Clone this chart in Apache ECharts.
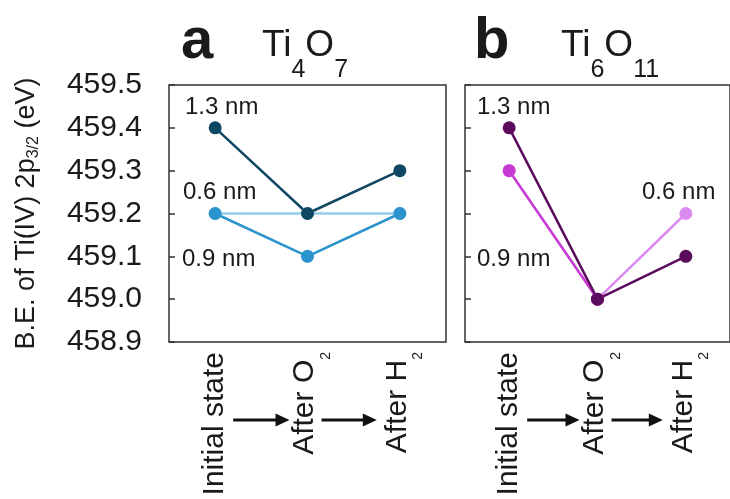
<!DOCTYPE html>
<html><head><meta charset="utf-8">
<script src="https://cdn.jsdelivr.net/npm/echarts@6/dist/echarts.min.js"></script>
<style>html,body{margin:0;padding:0;background:#fff}#c{width:730px;height:499px}</style>
</head><body><div id="c"></div>
<script>
// ---- data ----
const categories = ['Initial state', 'After O2', 'After H2'];
const yMin = 458.9, yMax = 459.5, yStep = 0.1;
// panel a: Ti4O7
const a_06 = [459.2, 459.2, 459.2];
const a_09 = [459.2, 459.1, 459.2];
const a_13 = [459.4, 459.2, 459.3];
// panel b: Ti6O11
const b_06 = [459.3, 459.0, 459.2];
const b_09 = [459.3, 459.0, null];
const b_13 = [459.4, 459.0, 459.1];

const FONT = '"Liberation Sans", Arial, sans-serif';
const TXT = '#1a1a1a';
const chart = echarts.init(document.getElementById('c'), null, {renderer: 'canvas'});

function catLabel(v) {
  const m = v.match(/^(.*)(\d)$/);
  if (m) return '{m2|' + m[1] + '}{s|' + m[2] + '}';
  return '{m|' + v + '}';
}
const xLabel = {
  rotate: 90, margin: 10, interval: 0, color: TXT, fontFamily: FONT,
  formatter: catLabel,
  rich: {
    m: {fontSize: 30, fontFamily: FONT, color: TXT, verticalAlign: 'top'},
    m2: {fontSize: 30, fontFamily: FONT, color: TXT, verticalAlign: 'top', padding: [8, 0, 0, 0]},
    s: {fontSize: 14, fontFamily: FONT, color: TXT, verticalAlign: 'top', padding: [37, 0, 0, 0]}
  }
};
function xAxis(idx) {
  return {
    type: 'category', gridIndex: idx, data: categories, boundaryGap: true,
    axisLine: {show: false}, axisTick: {show: false}, splitLine: {show: false},
    axisLabel: xLabel
  };
}
function yAxis(idx, showLabels) {
  const ax = {
    type: 'value', gridIndex: idx, min: yMin, max: yMax, interval: yStep,
    axisLine: {show: false}, splitLine: {show: false},
    axisTick: {show: true, inside: true, length: 6, lineStyle: {color: '#333', width: 1.5}},
    axisLabel: {show: showLabels, fontSize: 30, color: TXT, fontFamily: FONT, margin: 27,
      formatter: v => v.toFixed(1)}
  };
  if (showLabels) {
    ax.name = '{m|B.E. of Ti(IV) 2p}{s|3/2}{m| (eV)}';
    ax.nameLocation = 'middle';
    ax.nameRotate = 90;
    ax.nameGap = 127;
    ax.nameTextStyle = {
      rich: {
        m: {fontSize: 27, fontFamily: FONT, color: TXT, verticalAlign: 'top'},
        s: {fontSize: 16, fontFamily: FONT, color: TXT, verticalAlign: 'top', padding: [13, 0, 0, 0]}
      }
    };
  }
  return ax;
}
function line(name, data, color, gi) {
  return {
    name, type: 'line', data, xAxisIndex: gi, yAxisIndex: gi,
    symbol: 'circle', symbolSize: 13, showSymbol: true,
    lineStyle: {color, width: 2.5}, itemStyle: {color},
    connectNulls: false, animation: false, z: 3
  };
}
function note(text, x, y) {
  return {type: 'text', x, y, z: 10, style: {text, fontSize: 24, fontFamily: FONT, fill: TXT, align: 'left', verticalAlign: 'middle'}};
}
function title(letter, sub1, sub2, xl, xf) {
  return [
    {type: 'text', x: xl, y: 42, z: 10, style: {text: letter, fontSize: 58, fontWeight: 'bold', fontFamily: FONT, fill: TXT, align: 'left', verticalAlign: 'middle'}},
    {type: 'text', x: xf, y: 27, z: 10, style: {
      text: '{m|Ti}{s|' + sub1 + '}{m|O}{s|' + sub2 + '}',
      fontFamily: FONT, fill: TXT, align: 'left', verticalAlign: 'top',
      rich: {
        m: {fontSize: 37, fontFamily: FONT, fill: TXT, verticalAlign: 'top'},
        s: {fontSize: 25, fontFamily: FONT, fill: TXT, verticalAlign: 'top', padding: [31, 0, 0, 0]}
      }
    }}
  ];
}

const gridBox = {show: true, borderColor: '#333', borderWidth: 1.5, backgroundColor: 'transparent'};
const option = {
  animation: false,
  backgroundColor: '#fff',
  textStyle: {fontFamily: FONT},
  grid: [
    Object.assign({left: 169, top: 85, width: 277, height: 257}, gridBox),
    Object.assign({left: 465, top: 85, width: 277, height: 257}, gridBox)
  ],
  xAxis: [xAxis(0), xAxis(1)],
  yAxis: [yAxis(0, true), yAxis(1, false)],
  series: [
    line('0.6 nm', a_06, '#95cdea', 0),
    line('0.9 nm', a_09, '#2c94cc', 0),
    line('1.3 nm', a_13, '#0e4863', 0),
    line('0.6 nm', b_06, '#d98bef', 1),
    line('0.9 nm', b_09, '#c83bd3', 1),
    line('1.3 nm', b_13, '#5c0c5c', 1)
  ]
};
chart.setOption(option);

// arrows between category labels + annotations
const arrowY = 420;
function arrow(x1, x2) {
  return [
    {type: 'line', z: 10, shape: {x1: x1, y1: arrowY, x2: x2 - 10, y2: arrowY}, style: {stroke: '#111', lineWidth: 3}},
    {type: 'polygon', z: 10, shape: {points: [[x2 - 14, arrowY - 6.5], [x2, arrowY], [x2 - 14, arrowY + 6.5]]}, style: {fill: '#111'}}
  ];
}
const graphics = [];
[0, 1].forEach(gi => {
  const c = categories.map((_, i) => chart.convertToPixel({xAxisIndex: gi}, i));
  graphics.push(...arrow(c[0] + 18, c[1] - 18));
  graphics.push(...arrow(c[1] + 14, c[2] - 23));
});
graphics.push(...title('a', '4', '7', 181, 262));
graphics.push(...title('b', '6', '11', 474, 561));
graphics.push(note('1.3 nm', 185, 107), note('0.6 nm', 183, 192), note('0.9 nm', 182, 259));
graphics.push(note('1.3 nm', 477, 107), note('0.9 nm', 477, 259), note('0.6 nm', 642, 192));
chart.setOption({graphic: graphics});
</script>
</body></html>
